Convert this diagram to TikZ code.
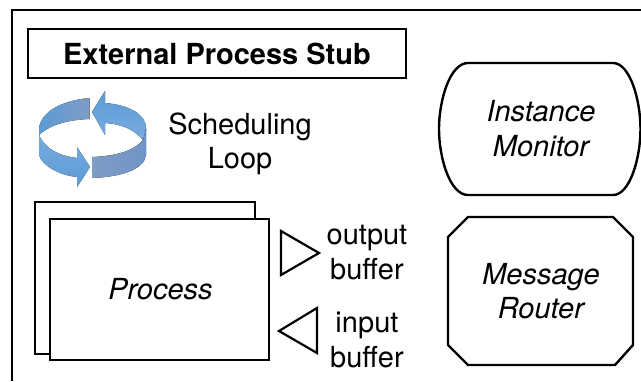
\documentclass[tikz,border=0pt]{standalone}
\usepackage{fontspec}
\setmainfont{TeX Gyre Heros}
\usepackage{tikz}
\usetikzlibrary{positioning}
\definecolor{loopblue}{HTML}{5B9BD5}
\definecolor{loopgrey}{HTML}{7F9CC4}
\definecolor{looplight}{HTML}{78ABE0}
\definecolor{loopdark}{HTML}{6F94C6}
\tikzset{
  heavy/.style={draw=black,line width=2.4pt,line join=miter},
  label/.style={font=\fontsize{29}{34.5}\selectfont,align=center,inner sep=0pt},
  ilabel/.style={label,font=\fontsize{29}{34.5}\selectfont\itshape},
  buffer/.style={draw=black,line width=2.2pt,line join=miter,fill=white},
}
\begin{document}
\begin{tikzpicture}[x=1pt,y=-1pt]
\useasboundingbox (0,0) rectangle (641,381);
% outer frame
\coordinate (frameBL) at (12,381);
\coordinate (frameTL) at (12,10);
\coordinate (frameTR) at (641,10);
\draw[heavy] (frameBL) -- (frameTL) -- (frameTR);
% title
\node[heavy,minimum width=378pt,minimum height=49pt,inner sep=0pt,font=\fontsize{29}{35}\selectfont\bfseries] (stub) at (217,53.5) {External Process Stub};
% loop icon
\fill[left color=loopblue,right color=loopgrey] (89.5,98) .. controls (57,101) and (39,115) .. (39,130) -- (39,135) .. controls (50,125) and (66,120) .. (89.5,119) -- cycle;
\fill[left color=loopgrey,right color=loopdark] (146,128) -- (146,155) .. controls (144,170) and (120,177) .. (92,178) -- (92,157) .. controls (118,156) and (135,150) .. (143,140) -- cycle;
\fill[top color=loopblue,bottom color=looplight] (92,112) -- (105,91) -- (105,103) .. controls (130,105) and (146,115) .. (146,128) -- (143,140) .. controls (135,130) and (122,124) .. (105,123) -- (105,135) -- cycle;
\fill[top color=looplight,bottom color=loopblue] (90,167) -- (77,147) -- (77,158) .. controls (60,156) and (46,150) .. (39,135) -- (39,155) .. controls (42,165) and (58,175) .. (77,177) -- (77,187) -- cycle;
\node[label] (sched) at (240,143.7) {Scheduling\\Loop};
% process stack
\node[heavy,fill=white,minimum width=220pt,minimum height=152pt,inner sep=0pt] (procback) at (145,278) {};
\node[heavy,fill=white,minimum width=219pt,minimum height=141pt,inner sep=0pt] (proc) at (159.5,289.5) {};
\node[ilabel] (proctext) at (proc.center) [xshift=1pt] {Process};
% buffers
\draw[buffer] (281,231) -- (319,253) -- (281,275) -- cycle;
\draw[buffer] (317,308) -- (279,331) -- (317,353) -- cycle;
\node[label] (outbuf) at (367,252.3) {output\\buffer};
\node[label] (inbuf) at (367,339.8) {input\\buffer};
% instance monitor
\draw[heavy] (468,63) -- (613,63) .. controls (630,63) and (640.5,100) .. (640.5,129) .. controls (640.5,158) and (630,195) .. (613,195) -- (468,195) .. controls (450,195) and (439,158) .. (439,129) .. controls (439,100) and (450,63) .. (468,63) -- cycle;
\node[ilabel] (monitor) at (541,128.7) {Instance\\Monitor};
% message router
\draw[heavy] (468,217) -- (613,217) -- (633,237) -- (633,345) -- (615,365) -- (468,365) -- (448,345) -- (448,237) -- cycle;
\node[ilabel] (router) at (541,291) {Message\\Router};
\end{tikzpicture}
\end{document}
